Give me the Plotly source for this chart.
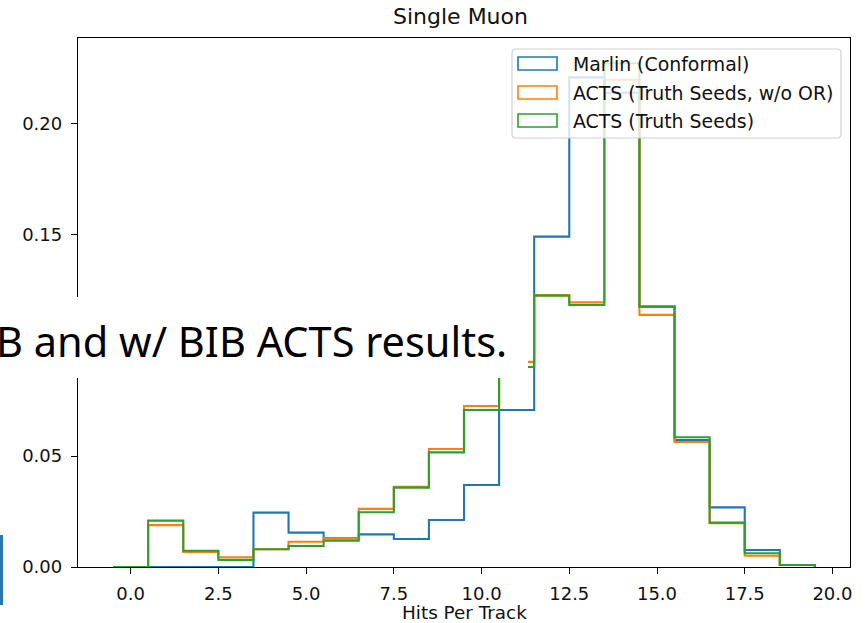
import plotly.graph_objects as go

# Hits-per-track distributions (normalised, unit-width bins centred on integers)
hits = list(range(20))
bin_width = 1.0

marlin_conformal = [0.0, 0.0, 0.0, 0.0, 0.0245, 0.0155, 0.0130, 0.0147, 0.0126, 0.0212,
                    0.0370, 0.0708, 0.1490, 0.2208, 0.2139, 0.1174, 0.0573, 0.0269, 0.0077, 0.0009]
acts_truth_no_or = [0.0, 0.0189, 0.0068, 0.0044, 0.0080, 0.0114, 0.0129, 0.0262, 0.0362, 0.0532,
                    0.0726, 0.0925, 0.1226, 0.1194, 0.2197, 0.1137, 0.0564, 0.0198, 0.0051, 0.0009]
acts_truth = [0.0, 0.0209, 0.0073, 0.0032, 0.0080, 0.0095, 0.0119, 0.0247, 0.0358, 0.0517,
              0.0708, 0.0902, 0.1224, 0.1182, 0.2272, 0.1174, 0.0585, 0.0200, 0.0062, 0.0009]

series_names = ["Marlin (Conformal)", "ACTS (Truth Seeds, w/o OR)", "ACTS (Truth Seeds)"]
series_values = [marlin_conformal, acts_truth_no_or, acts_truth]
colors = ["#1f77b4", "#ff7f0e", "#2ca02c"]

x_ticks = [0.0, 2.5, 5.0, 7.5, 10.0, 12.5, 15.0, 17.5, 20.0]
y_ticks = [0.00, 0.05, 0.10, 0.15, 0.20]

W, H = 867, 623
L, R, T, B = 78, 17, 38, 56
PW, PH = W - L - R, H - T - B


def px_x(x):
    return (x - L) / PW


def px_y(y):
    return (H - B - y) / PH


edges = [h - bin_width / 2 for h in hits] + [hits[-1] + bin_width / 2]

fig = go.Figure()
for name, vals, col in zip(series_names, series_values, colors):
    # step outline: rise from zero at the first edge, fall back to zero at the last
    xs = [edges[0]] + edges
    ys = [0.0] + list(vals) + [0.0]
    fig.add_trace(go.Scatter(x=xs, y=ys, mode="lines", line_shape="hv",
                             line=dict(color=col, width=2.1), name=name,
                             showlegend=False, hoverinfo="skip"))

ymax = max(max(v) for v in series_values) * 1.05
xmin, xmax = edges[0], edges[-1]
xpad = (xmax - xmin) * 0.05

axis_common = dict(showline=True, linecolor="black", linewidth=1.3, mirror=True,
                   ticks="outside", ticklen=6, tickwidth=1.3, tickcolor="black",
                   showgrid=False, zeroline=False,
                   tickfont=dict(family="DejaVu Sans", size=18, color="#111"))

fig.update_layout(
    width=W, height=H,
    margin=dict(l=L, r=R, t=T, b=B),
    paper_bgcolor="white", plot_bgcolor="white",
    showlegend=False,
    xaxis=dict(range=[xmin - xpad, xmax + xpad], tickvals=x_ticks,
               ticktext=[f"{v:.1f}" for v in x_ticks], ticklabelstandoff=4, **axis_common),
    yaxis=dict(range=[0, ymax], tickvals=y_ticks,
               ticktext=[f"{v:.2f}" for v in y_ticks], ticklabelstandoff=5, **axis_common),
)

annotations = [
    dict(text="Single Muon", x=0.495, y=px_y(16), xref="paper", yref="paper",
         xanchor="center", yanchor="middle", showarrow=False,
         font=dict(family="DejaVu Sans", size=22, color="#111")),
    dict(text="Hits Per Track", x=0.5, y=px_y(612), xref="paper", yref="paper",
         xanchor="center", yanchor="middle", showarrow=False,
         font=dict(family="DejaVu Sans", size=18.4, color="#111")),
]

shapes = []

# legend frame: translucent white, rounded corners
lx0, lx1, ly0, ly1, rad = 512, 841, 49, 138, 4
rx, ry = rad / PW, rad / PH
X0, X1, Y0, Y1 = px_x(lx0), px_x(lx1), px_y(ly1), px_y(ly0)
path = (f"M{X0 + rx},{Y0} L{X1 - rx},{Y0} Q{X1},{Y0} {X1},{Y0 + ry} "
        f"L{X1},{Y1 - ry} Q{X1},{Y1} {X1 - rx},{Y1} L{X0 + rx},{Y1} "
        f"Q{X0},{Y1} {X0},{Y1 - ry} L{X0},{Y0 + ry} Q{X0},{Y0} {X0 + rx},{Y0} Z")
shapes.append(dict(type="path", path=path, xref="paper", yref="paper", layer="above",
                   fillcolor="rgba(255,255,255,0.8)", line=dict(color="#d0d0d0", width=1.2)))

row_centers = [63.5, 92.5, 120.5]
for name, col, cy in zip(series_names, colors, row_centers):
    shapes.append(dict(type="rect", xref="paper", yref="paper", layer="above",
                       x0=px_x(518), x1=px_x(557), y0=px_y(cy + 6.5), y1=px_y(cy - 6.5),
                       fillcolor="rgba(0,0,0,0)", line=dict(color=col, width=1.6)))
    annotations.append(dict(text=name, x=px_x(571), y=px_y(cy), xref="paper", yref="paper",
                            xanchor="left", yanchor="middle", showarrow=False,
                            font=dict(family="DejaVu Sans", size=18.9, color="#111")))

# caption strip laid across the chart
shapes.append(dict(type="rect", xref="paper", yref="paper", layer="above",
                   x0=px_x(-5), x1=px_x(528), y0=px_y(378), y1=px_y(297),
                   fillcolor="white", line=dict(width=0)))
annotations.append(dict(text="B and w/ BIB ACTS results.", x=px_x(509), y=px_y(341),
                        xref="paper", yref="paper", xanchor="right", yanchor="middle",
                        showarrow=False,
                        font=dict(family="Noto Sans", size=41.5, color="black")))

# slide accent bar at the lower left
shapes.append(dict(type="rect", xref="paper", yref="paper", layer="above",
                   x0=px_x(0), x1=px_x(3), y0=px_y(605), y1=px_y(535),
                   fillcolor="#2a78ad", line=dict(width=0)))

fig.update_layout(shapes=shapes, annotations=annotations)
fig.write_html("out.html")
